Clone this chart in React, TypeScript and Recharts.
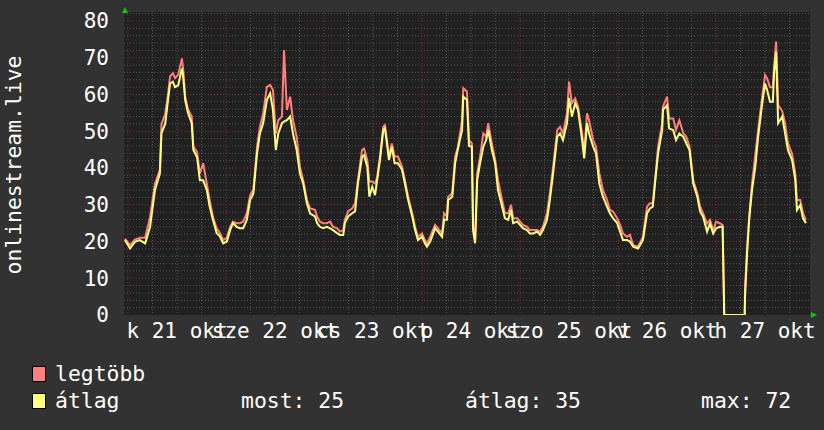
import React from 'react';
import { LineChart, Line, XAxis, YAxis, CartesianGrid } from 'recharts';

// hours since 21 Oct 00:00
const hours = [
  -0.75, 0.5, 1.7, 2.9, 4.2, 5.4, 6.6, 7.8, 8.2, 9.1, 9.8, 10.3, 11, 11.5, 12.3, 13.2, 13.5, 14, 14.7, 15.6,
  16, 16.9, 17.6, 18.4, 19.3, 20, 20.8, 21.7, 22.5, 23.3, 24.2, 25, 25.7, 26.6, 27.4, 28.2, 29.1, 29.9, 30.7, 31.6,
  32.3, 33.1, 34, 34.8, 35.5, 36.2, 36.8, 37.7, 38.2, 38.9, 39.7, 40.4, 41.3, 42.1, 42.9, 43.8, 44.6, 45.8, 46.3, 47,
  47.8, 48.7, 49.5, 50.2, 51.2, 51.9, 52.7, 53.1, 53.9, 54.9, 55.6, 56.3, 57.3, 57.8, 58.6, 59.1, 59.8, 60.5, 61, 61.7,
  62.5, 62.9, 63.4, 63.9, 64.6, 65.3, 66.1, 67.1, 67.8, 68.6, 69.6, 70.3, 71, 72, 72.7, 73.2, 74, 75.2, 75.9, 76.9,
  77.4, 78.1, 78.4, 79.4, 80.1, 80.8, 81.8, 82.1, 83, 83.5, 84.2, 84.5, 85, 85.5, 86.2, 87, 87.7, 88.2, 89.1, 89.9,
  90.6, 91.6, 92.3, 93.1, 93.8, 94.3, 95.3, 96, 96.7, 97.7, 98.4, 99.2, 100.2, 100.9, 101.6, 102.6, 103.3, 104.1, 105.1, 105.8,
  106.5, 107.5, 108, 108.7, 109.5, 110.2, 111.2, 111.7, 112.4, 112.9, 113.9, 114.6, 115.4, 116.3, 117.3, 118, 118.8, 119.8, 120.5, 121.2,
  122.2, 122.9, 123.7, 124.9, 126.1, 127.1, 127.8, 128.5, 129.3, 129.8, 130.8, 131, 132, 132.5, 133.5, 134.2, 135, 136, 136.7, 137.5,
  138.4, 139.4, 140.1, 140.8, 141.8, 142.5, 143.3, 144, 145, 145.6, 146, 151, 151.1, 151.6, 152.1, 152.8, 153.6, 154.3, 155.3, 156,
  156.5, 157.2, 157.9, 158.2, 158.7, 159.2, 160.2, 160.9, 161.6, 162.6, 163.4, 163.8, 164.6, 165.3, 166,
];

// "legtöbb" (maximum)
const maxValues = [
  20.8, 19, 20.5, 21, 21, 26.7, 35.7, 39.5, 52, 54.7, 60, 64.9, 65.8, 64.5, 65.4, 69.8, 67, 59.4, 55.9, 54,
  45.8, 44.4, 38.5, 41.3, 35.7, 31.3, 26.7, 23.6, 22.3, 20.4, 21, 24, 25.4, 25, 25, 25.4, 27.7, 32.6, 34, 45.8,
  51.2, 54.8, 62.1, 62.6, 61.2, 49.4, 53, 54, 72.1, 55.8, 59.4, 53, 48.5, 40.3, 36.7, 31.3, 29, 28.6, 26.8, 25.4,
  25, 25, 25.4, 24, 23.6, 22.7, 23.1, 25.9, 28.2, 29, 30.4, 36.7, 44.9, 45.3, 42.1, 36.3, 36.3, 35.8, 37.5, 43.1,
  51.2, 51.7, 47.6, 43.1, 46.7, 43.1, 43.1, 40.4, 36.7, 32.2, 27.7, 24, 21.3, 22.2, 20.4, 19.5, 21.3, 24.5, 23.6, 22.2,
  27.7, 26.8, 32.2, 33.1, 43.1, 45.8, 53, 61.7, 60.8, 47.6, 46.7, 24, 20.4, 38.5, 43.1, 49.4, 48.5, 52.2, 46.7, 42.2,
  36.7, 31.3, 27.7, 27.7, 30, 26.3, 26.3, 25.4, 24.5, 24, 23.1, 23.1, 23.1, 22.7, 24, 27.7, 33.1, 40.3, 50.3, 51.2,
  49.4, 54.9, 63.5, 57.6, 58.9, 56.7, 49.4, 44, 54.9, 53, 47.6, 45.8, 38.6, 34, 31.3, 28.6, 28.1, 26.3, 24.5, 22.2,
  21.3, 21.8, 19, 18.6, 21.3, 29.5, 30.4, 30.4, 39.5, 45.8, 52.2, 56.7, 59.4, 53.5, 53.5, 50.3, 53, 49.4, 48.5, 45.8,
  36.7, 33.1, 29.5, 27.7, 24.9, 25.9, 23.1, 25.4, 24.9, 24.5, 0, 0, 8, 18.5, 26.8, 35.7, 43.5, 50.3, 59.4, 65.3,
  64.4, 62, 62, 67.6, 74.4, 57.1, 55.5, 52.2, 46.7, 43.9, 38.5, 31.3, 31.3, 27.7, 25.9,
];

// "átlag" (average)
const avgValues = [
  20.4, 18.1, 19.9, 20.4, 19.5, 24, 34, 38.5, 49.5, 52, 58.5, 63, 63.5, 62, 62.5, 67.1, 65, 58.5, 55, 52.2,
  44.9, 43, 36.7, 36.7, 34, 29.5, 25.9, 22.3, 21.4, 19.5, 20, 23.1, 25, 24, 23.6, 23.6, 25.9, 31.3, 33.1, 44,
  49.4, 52.2, 58.5, 60.3, 55.8, 44.9, 49.4, 52.2, 52.6, 53, 54, 49.4, 44.9, 38.5, 35.8, 30.4, 27.6, 26.8, 25, 24,
  23.6, 24, 23.6, 23.1, 22.3, 21.8, 21.8, 25, 26.8, 27.7, 28.2, 35.8, 43, 43.5, 40.3, 32.2, 34.9, 32.6, 36.7, 42.2,
  50.3, 50.8, 46.7, 42.2, 45.8, 41.3, 41.3, 39.5, 35.8, 31.3, 26.8, 23.1, 20.4, 21.3, 19.5, 18.6, 20, 23.6, 22.7, 21.3,
  25.9, 25.9, 31.3, 32.2, 41.3, 45.3, 50.3, 59.4, 58.5, 46, 45.8, 23.1, 19.5, 36.7, 41.3, 45.8, 47.6, 50.3, 44.9, 41.3,
  34, 29.5, 26.3, 25.9, 28.6, 25, 25.4, 24.5, 23.6, 23.1, 22.2, 22.2, 22.7, 21.8, 23.1, 25.9, 31.3, 38.6, 48.5, 49.4,
  47.6, 52.2, 59, 54, 57.6, 55.8, 47.6, 42.6, 52.2, 49.4, 45.8, 44, 35.8, 32.2, 29.5, 27.7, 26.3, 25, 22.7, 20.4,
  20.4, 20, 18.6, 18.1, 20.4, 27.7, 29, 29.5, 38.6, 44, 50.3, 55.8, 57.1, 50.8, 50.3, 47.6, 49.4, 48.5, 46.7, 44.9,
  35.8, 32.2, 28.1, 26.8, 22.7, 24.9, 22.2, 23.6, 24, 24, 0, 0, 5, 16.8, 25.9, 34, 40.3, 48.5, 57.6, 63,
  61.2, 58, 58, 65.8, 71.6, 52.2, 54, 49.4, 44.9, 42.2, 36.7, 28.6, 29.9, 26.3, 25,
];

const dayLabels = ['k 21 okt', 'sze 22 okt', 'cs 23 okt', 'p 24 okt', 'szo 25 okt', 'v 26 okt', 'h 27 okt'];
const dayLabelHours = [12, 36, 60, 84, 108, 132, 156];
const yTicks = [0, 10, 20, 30, 40, 50, 60, 70, 80];

const seriesNames = ['legtöbb', 'átlag'];
const statLabels = ['most: 25', 'átlag: 35', 'max: 72'];
const axisTitle = 'onlinestream.live';

const data = hours.map((h, i) => ({ h, max: maxValues[i], avg: avgValues[i] }));

const minorH: number[] = [];
for (let v = 2; v <= 82; v += 2) if (v % 10 !== 0) minorH.push(v);
const majorH = [10, 20, 30, 40, 50, 60, 70, 80];
const minorV: number[] = [];
for (let t = 6; t < 168; t += 6) if (t % 24 !== 0) minorV.push(t);
const majorV = [0, 24, 48, 72, 96, 120, 144];

const FONT = '"DejaVu Sans Mono", monospace';
const RED = '#ff7f7f';
const YEL = '#ffff7f';

export default function App() {
  return (
    <div style={{ position: 'absolute', left: 0, top: 0, width: 824, height: 430, background: '#323232' }}>
      <LineChart width={824} height={430} data={data} margin={{ top: 12, right: 14, bottom: 85, left: 0 }}>
        <CartesianGrid
          fill="#212121"
          stroke="#555555"
          strokeDasharray="1 2"
          horizontalValues={minorH}
          verticalValues={minorV}
        />
        <CartesianGrid
          stroke="#7a3434"
          strokeDasharray="1 2"
          horizontalValues={majorH}
          verticalValues={majorV}
        />
        <XAxis
          type="number"
          dataKey="h"
          domain={[-0.98, 167]}
          allowDataOverflow
          ticks={dayLabelHours}
          interval={0}
          tickFormatter={(v: number) => dayLabels[dayLabelHours.indexOf(v)] ?? ''}
          axisLine={false}
          tickLine={false}
          height={30}
          tick={{ fill: '#ffffff', fontSize: 21, fontFamily: FONT }}
        />
        <YAxis
          type="number"
          domain={[0, 82.45]}
          allowDataOverflow
          ticks={yTicks}
          interval={0}
          width={124}
          axisLine={false}
          tickLine={false}
          tickMargin={9}
          tick={{ fill: '#ffffff', fontSize: 21, fontFamily: FONT }}
        />
        <Line dataKey="max" stroke={RED} strokeWidth={2} dot={false} isAnimationActive={false} type="linear" />
        <Line dataKey="avg" stroke={YEL} strokeWidth={2} dot={false} isAnimationActive={false} type="linear" />
      </LineChart>
      <svg width={824} height={430} style={{ position: 'absolute', left: 0, top: 0, pointerEvents: 'none' }}>
        <polygon points="122,13 128,13 125,7" fill="#00cc00" />
        <polygon points="811,312 811,318 817,315" fill="#00cc00" />
        <text
          x={21}
          y={165}
          transform="rotate(-90 21 165)"
          textAnchor="middle"
          fill="#ffffff"
          fontSize={21.4}
          fontFamily={FONT}
        >
          {axisTitle}
        </text>
        <rect x={32.5} y={366.5} width={13} height={15} fill={RED} stroke="#000" strokeWidth={1} />
        <rect x={32.5} y={393.5} width={13} height={15} fill={YEL} stroke="#000" strokeWidth={1} />
        <g fill="#ffffff" fontSize={21.4} fontFamily={FONT}>
          <text x={55} y={381}>{seriesNames[0]}</text>
          <text x={55} y={408}>{seriesNames[1]}</text>
          <text x={241} y={408}>{statLabels[0]}</text>
          <text x={465} y={408}>{statLabels[1]}</text>
          <text x={701} y={408}>{statLabels[2]}</text>
        </g>
      </svg>
    </div>
  );
}
